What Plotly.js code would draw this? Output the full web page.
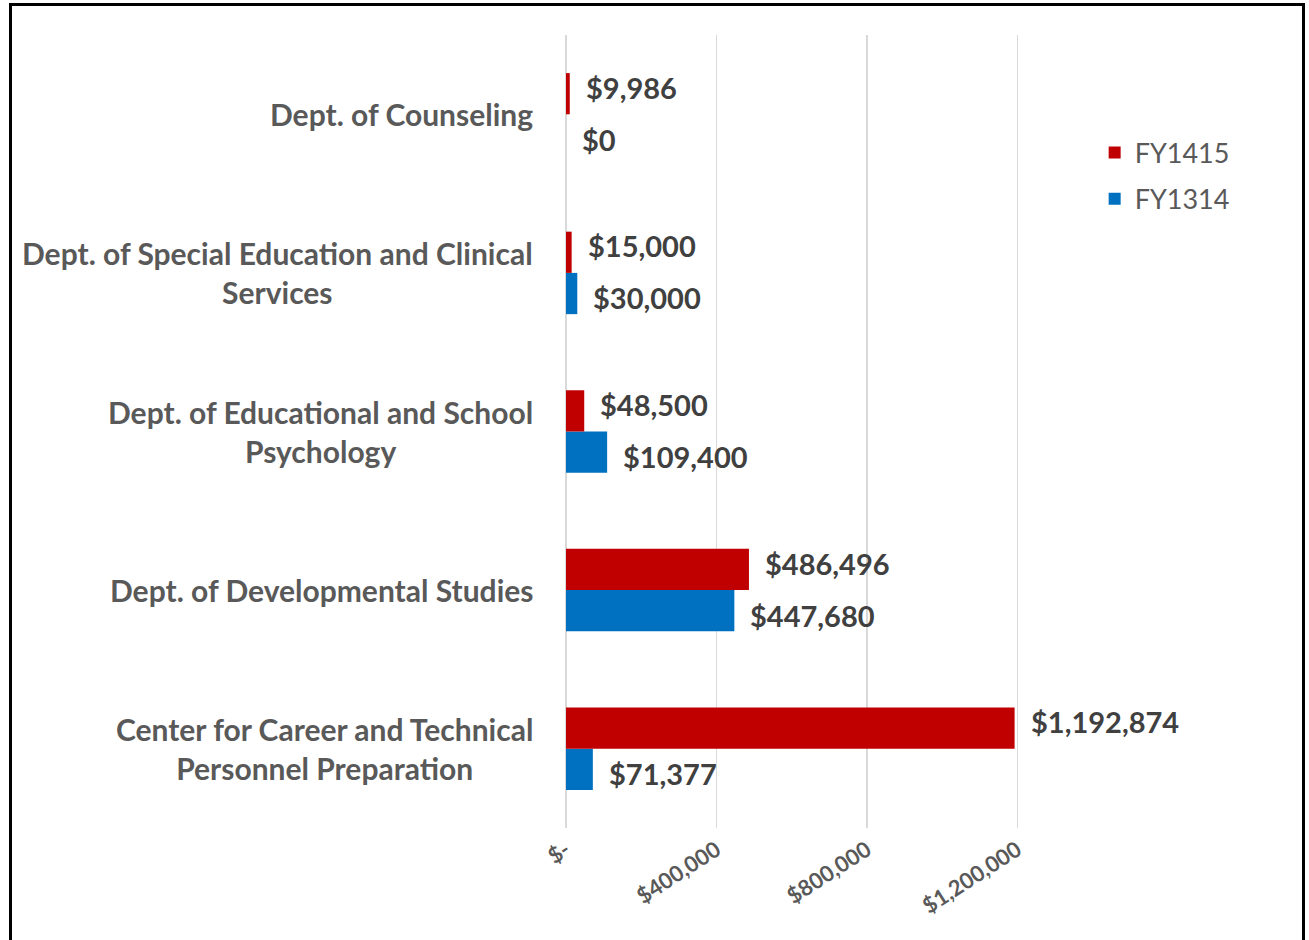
<!DOCTYPE html>
<html>
<head>
<meta charset="utf-8">
<script src="https://cdn.plot.ly/plotly-3.0.1.min.js"></script>
<style>
  html, body { margin: 0; padding: 0; background: #fff; }
  #wrap { position: relative; width: 1309px; height: 940px; overflow: hidden; }
  #chart { width: 1309px; height: 940px; }
  #frame { position: absolute; left: 9px; top: 3px; width: 1296px; height: 960px;
           border: 3.5px solid #000; box-sizing: border-box; pointer-events: none; }
</style>
</head>
<body>
<div id="wrap">
  <div id="chart"></div>
  <div id="frame"></div>
</div>
<script>
// Categories listed bottom-to-top (Plotly category axis order)
const categories = [
  "Center for Career and Technical<br>Personnel Preparation",
  "Dept. of Developmental Studies",
  "Dept. of Educational and School<br>Psychology",
  "Dept. of Special Education and Clinical<br>Services",
  "Dept. of Counseling"
];
const fy1415 = [1192874, 486496, 48500, 15000, 9986];
const fy1314 = [71377, 447680, 109400, 30000, 0];
const seriesNames = ["FY1415", "FY1314"];
const tickVals = [0, 400000, 800000, 1200000];
const tickText = ["$-", "$400,000", "$800,000", "$1,200,000"];

const RED = "#C00000", BLUE = "#0070C0";
const FONT = "Lato, 'Open Sans', sans-serif";

const fmt = v => "$" + v.toLocaleString("en-US");

const traces = [
  { type: "bar", orientation: "h", name: seriesNames[1], legendgroup: "b", legendrank: 2,
    y: categories, x: fy1314, marker: { color: BLUE }, hoverinfo: "none" },
  { type: "bar", orientation: "h", name: seriesNames[0], legendgroup: "a", legendrank: 1,
    y: categories, x: fy1415, marker: { color: RED }, hoverinfo: "none" }
];

const annotations = [];
categories.forEach((c, i) => {
  annotations.push({ xref: "paper", yref: "y", x: 0, y: c, text: "<b>" + c + "</b>",
    xanchor: "right", yanchor: "middle", align: "center", xshift: -31, showarrow: false,
    font: { family: FONT, size: 30, color: "#595959" } });
  annotations.push({ xref: "x", yref: "y", x: fy1415[i], y: c, text: "<b>" + fmt(fy1415[i]) + "</b>",
    xanchor: "left", yanchor: "middle", xshift: 14, yshift: 27, showarrow: false,
    font: { family: FONT, size: 29, color: "#404040" } });
  annotations.push({ xref: "x", yref: "y", x: fy1314[i], y: c, text: "<b>" + fmt(fy1314[i]) + "</b>",
    xanchor: "left", yanchor: "middle", xshift: 14, yshift: -25, showarrow: false,
    font: { family: FONT, size: 29, color: "#404040" } });
});

const layout = {
  width: 1309, height: 940,
  margin: { l: 566, r: 209, t: 35, b: 112, pad: 0 },
  paper_bgcolor: "#fff", plot_bgcolor: "#fff",
  barmode: "group", bargap: 0.48, bargroupgap: 0,
  showlegend: true,
  legend: { x: 0.99, xanchor: "left", y: 0.882, yanchor: "top", traceorder: "grouped",
    tracegroupgap: 8, itemwidth: 30,
    font: { family: FONT, size: 27, color: "#595959" }, bgcolor: "rgba(0,0,0,0)" },
  xaxis: { range: [0, 1420000], tickvals: tickVals, ticktext: tickText, tickangle: -33,
    showgrid: true, gridcolor: "#d9d9d9", gridwidth: 1.5,
    zeroline: true, zerolinecolor: "#d9d9d9", zerolinewidth: 1.5,
    showline: false, ticks: "", ticklabelstandoff: 4,
    tickfont: { family: FONT, size: 22, color: "#595959", weight: 700 } },
  yaxis: { type: "category", categoryorder: "array", categoryarray: categories,
    showticklabels: false, showgrid: false, zeroline: false, showline: false, ticks: "" },
  annotations: annotations
};

Plotly.newPlot("chart", traces, layout, { displayModeBar: false, staticPlot: true });
</script>
</body>
</html>
